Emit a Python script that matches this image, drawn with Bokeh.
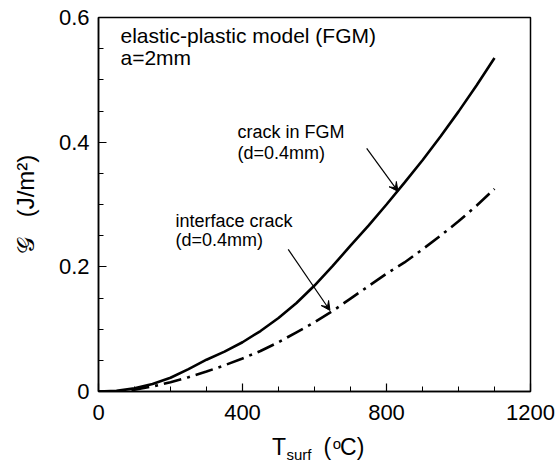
from bokeh.plotting import figure
from bokeh.layouts import column
from bokeh.models import Range1d, FixedTicker, CustomJSTickFormatter, Label, Arrow, VeeHead
from bokeh.embed import file_html
from bokeh.resources import INLINE

# ---- data ----
t_surf = [0, 50, 100, 150, 200, 250, 300, 350, 400, 450, 500, 550, 600,
          650, 700, 750, 800, 850, 900, 950, 1000, 1050, 1100]
g_fgm = [0, 0.001, 0.005, 0.012, 0.022, 0.036, 0.051, 0.064, 0.079, 0.097, 0.118, 0.142, 0.170,
         0.201, 0.234, 0.266, 0.300, 0.335, 0.371, 0.409, 0.449, 0.491, 0.535]
g_interface = [0, 0.0005, 0.003, 0.008, 0.015, 0.023, 0.032, 0.042, 0.053, 0.065, 0.079, 0.095, 0.111,
               0.129, 0.149, 0.169, 0.189, 0.207, 0.228, 0.250, 0.273, 0.298, 0.325]

x_ticks = [0, 400, 800, 1200]
x_minor = [100, 200, 300, 500, 600, 700, 900, 1000, 1100]
y_ticks = [0, 0.2, 0.4, 0.6]
y_minor = [0.05, 0.1, 0.15, 0.25, 0.3, 0.35, 0.45, 0.5, 0.55]

y_title = "\U0001D4A2\u00a0\u00a0\u00a0(J/m\u00b2)"
x_title_parts = ["T", "surf", "(", "o", "C)"]

FONT = "Liberation Sans"

x_rng = Range1d(0, 1200)

p = figure(width=556, height=431, x_range=x_rng, y_range=Range1d(0, 0.6),
           output_backend="svg", toolbar_location=None,
           min_border_left=98, min_border_right=26, min_border_top=17, min_border_bottom=40)
p.grid.visible = False
p.outline_line_color = "black"
p.outline_line_width = 1.5
p.background_fill_color = "white"
p.border_fill_color = "white"

for ax in (p.xaxis[0], p.yaxis[0]):
    ax.axis_line_width = 1.5
    ax.major_tick_in = 8
    ax.major_tick_out = 0
    ax.minor_tick_in = 5
    ax.minor_tick_out = 0
    ax.major_tick_line_width = 1.2
    ax.minor_tick_line_width = 1.0
    ax.major_label_text_font = FONT
    ax.major_label_text_font_size = "22px"
    ax.major_label_text_color = "black"

p.xaxis.ticker = FixedTicker(ticks=x_ticks, minor_ticks=x_minor)
p.yaxis.ticker = FixedTicker(ticks=y_ticks, minor_ticks=y_minor)
p.yaxis.formatter = CustomJSTickFormatter(code="return tick == 0 ? '0' : tick.toFixed(1);")
p.xaxis.major_label_standoff = 13
p.yaxis.major_label_standoff = 9

p.yaxis.axis_label = y_title
p.yaxis.axis_label_text_font = FONT
p.yaxis.axis_label_text_font_size = "24px"
p.yaxis.axis_label_text_font_style = "normal"
p.yaxis.axis_label_text_color = "black"
p.yaxis.axis_label_standoff = 17

p.line(t_surf, g_fgm, line_color="black", line_width=2.6)
p.line(t_surf, g_interface, line_color="black", line_width=2.6, line_dash="18 6 3 6")

def lab(fig, x, y, text, size, **kw):
    fig.add_layout(Label(x=x, y=y, text=text, text_font=FONT, text_font_size=size,
                         text_color="black", **kw))

lab(p, 61, 0.552, "elastic-plastic model (FGM)", "21px")
lab(p, 61, 0.518, "a=2mm", "21px")
lab(p, 386, 0.401, "crack in FGM", "18px")
lab(p, 386, 0.367, "(d=0.4mm)", "18px")
lab(p, 214, 0.258, "interface crack", "18px")
lab(p, 214, 0.227, "(d=0.4mm)", "18px")

p.add_layout(Arrow(end=VeeHead(size=9, fill_color="black", line_color="black"),
                   x_start=745, y_start=0.390, x_end=832, y_end=0.321,
                   line_color="black", line_width=1.2))
p.add_layout(Arrow(end=VeeHead(size=9, fill_color="black", line_color="black"),
                   x_start=527, y_start=0.228, x_end=643, y_end=0.130,
                   line_color="black", line_width=1.2))

# strip below the plot holding the x-axis title T_surf (°C); shares the x range of the plot
p2 = figure(width=556, height=36, x_range=x_rng, y_range=Range1d(0, 36),
            output_backend="svg", toolbar_location=None,
            min_border=0, min_border_left=0, min_border_right=0, min_border_top=0, min_border_bottom=0)
p2.axis.visible = False
p2.grid.visible = False
p2.outline_line_color = None
p2.background_fill_color = "white"
p2.border_fill_color = "white"

lab(p2, 482, 8, x_title_parts[0], "23px")
lab(p2, 522, 4.3, x_title_parts[1], "15px")
lab(p2, 625, 8, x_title_parts[2], "23px")
lab(p2, 651, 15.3, x_title_parts[3], "15px")
lab(p2, 671, 8, x_title_parts[4], "23px")

layout = column(p, p2, spacing=0)
open("out.html", "w").write(file_html(layout, INLINE))
